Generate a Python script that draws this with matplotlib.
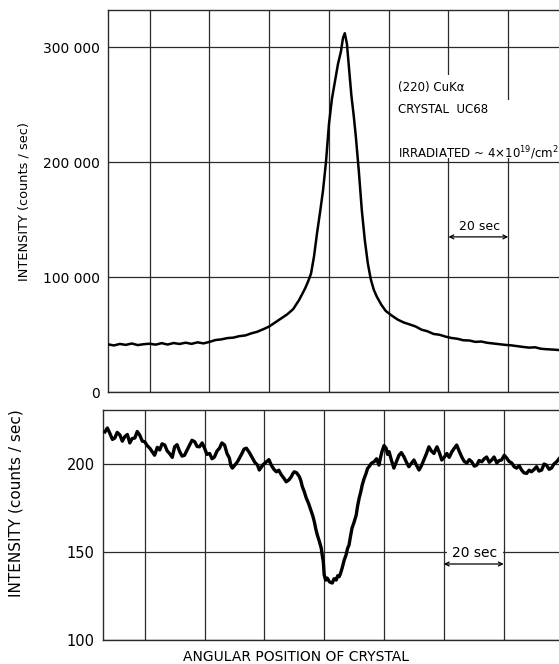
import matplotlib
matplotlib.use("Agg")
import matplotlib.pyplot as plt
from matplotlib.patches import Rectangle
from matplotlib.ticker import FuncFormatter

# top trace: (220) CuKa reflection, counts/sec vs angular position (sec of arc)
top_sec = [6, 8, 10, 12, 14, 16, 18, 20, 22, 24, 26, 28, 30, 32, 34, 36, 38, 40,
           42, 44, 46, 48, 50, 52, 54, 56, 58, 60, 62, 64, 66, 68, 70, 72, 73, 74,
           75, 76, 77, 78, 79, 80, 81, 82, 83, 84, 84.7, 85.3, 86, 86.7, 87.5,
           88.3, 89, 90, 91, 92, 93, 94, 95, 96, 97.5, 99, 101, 103, 105, 107,
           109, 111, 113, 115, 117, 119, 121, 123, 125, 127, 129, 131, 133, 135,
           137, 139, 141, 143, 145, 147, 149, 151, 153, 155, 157]
top_counts = [41500, 40500, 41800, 41000, 42200, 40800, 41600, 42000, 41200, 42500,
              41300, 42600, 41800, 42900, 41900, 43200, 42300, 43600, 45200, 45800,
              46900, 47300, 48600, 49200, 51000, 52400, 54600, 57000, 60500, 64000,
              67500, 72000, 80000, 90000, 96000, 103000, 118000, 138000, 156000,
              175000, 200000, 233000, 255000, 270000, 285000, 296000, 308000, 312000,
              303000, 282000, 258000, 240000, 222000, 192000, 158000, 132000, 112000,
              98000, 89000, 83000, 76000, 70500, 66500, 63000, 60500, 58800, 57000,
              54200, 52800, 50500, 49800, 48200, 47000, 46300, 45000, 44800, 43600,
              43900, 42800, 42200, 41600, 41000, 40600, 39900, 39200, 38600, 38900,
              37600, 37200, 36900, 36500]

# bottom trace (same angular scale)
bot_sec = [6.7, 7.5, 8.3, 9.2, 10, 10.8, 11.7, 12.5, 13.3, 14.2, 15, 15.8, 16.7,
           17.5, 18.3, 19.2, 20, 20.8, 21.7, 22.5, 23.3, 24.2, 25, 25.8, 26.7,
           27.5, 28.3, 29.2, 30, 30.8, 31.7, 32.5, 33.3, 34.2, 35, 35.8, 36.7,
           37.5, 38.3, 39.2, 40, 40.8, 41.7, 42.5, 43.3, 44.2, 45, 45.8, 46.7,
           47.5, 48.3, 48.8, 49.3, 50.2, 51, 52.5, 53.2, 54, 55, 56, 56.8, 57.7,
           58.3, 59.5, 60.7, 61.5, 62.3, 63.2, 64, 64.8, 65.7, 66.5, 67.3, 68.2,
           69, 69.5, 70, 70.8, 71.7, 72.2, 72.7,
           73.3, 74, 74.8, 75.7, 76.2, 76.7, 77.2, 77.7, 78.3, 79, 79.4, 79.7, 80,
           80.5, 81, 81.8, 82.7, 83.3, 84, 84.5, 85, 85.5, 86, 86.7, 87.3, 87.8,
           88.3, 88.8, 89.3, 90, 90.7, 91.2, 91.7, 92.2, 92.7, 93.3, 94, 94.5, 95,
           95.8, 96.7, 97.5, 98.3, 98.8, 99.3, 100, 100.7, 101.2, 101.7, 102.5,
           103.3, 104.2, 105, 105.8, 106.7, 107.5, 108.3, 109.2, 110, 110.8, 111.7,
           112.5, 113.3, 114.2, 115, 115.8, 116.7, 117.2, 117.7, 118.5, 119.3,
           120.2, 121, 121.8, 122.7, 123.5, 124.3, 125.2, 126, 126.8, 127.7, 128.5,
           129.3, 130.2, 131, 131.8, 132.7, 133.5, 134.3, 135.2, 136, 136.8, 137.7,
           138.5, 139.3, 140.2, 141, 141.8, 142.7, 143.5, 144.3, 145.2, 146, 146.8,
           147.7, 148.5, 149.3, 150.2, 151, 151.8, 152.7, 153.5, 154.3, 155.2, 156,
           156.8, 157.7, 158.5]
bot_counts = [218.3, 220.5, 217.6, 214.0, 214.8, 218.0, 216.5, 213.0, 215.5, 216.8,
              212, 214.5, 214.8, 218.5, 216.5, 213.0, 212.7, 210.5, 209, 207.0, 205,
              209.5, 208, 211.5, 210.8, 207.5, 206, 203.8, 209.8, 211.0, 207, 204.5,
              205, 208.0, 210.8, 213.5, 212.7, 210.0, 209.8, 212.0, 209, 205.5, 206,
              203.0, 204, 207.5, 209, 212.0, 210.8, 206.0, 203.4, 199.0, 197.7,
              199.5, 201.3, 206.0, 208.5, 209, 206.5, 203.4, 201.0, 199.4, 196.6,
              199.5, 201.3, 202.5, 199.4, 197.0, 195.6, 196.5, 193.8, 192.0, 189.9,
              191.0, 192.8, 194.5, 195.6, 195.0, 192.8, 190.5, 187.1,
              184.5, 180.7, 177.5, 172.9, 170.5, 167.2, 163.0, 159.7, 156.5, 152.3,
              147.5, 144.5, 137, 134.0, 135.2, 133.0, 132.4, 134.8, 134.1, 136.5,
              136, 138.0, 140.9, 145.5, 148.3, 152.0, 154, 159.0, 163.6, 167.0, 171,
              176.5, 180.7, 184.0, 188, 191.5, 194.7, 197.5, 198.5, 200.5, 201.3,
              203.0, 199.4, 203.5, 207, 210.5, 209, 205.5, 207, 202.0, 197.7, 201.5,
              205, 206.5, 204, 201.0, 198.5, 200.5, 202.3, 199.5, 196.6, 199.0,
              202.3, 206.0, 209.8, 207.5, 206, 208.0, 209.8, 206.5, 202.3, 204.0,
              206, 203.8, 207, 209.0, 210.8, 207.0, 204, 201.5, 200.6, 202.5, 201.3,
              198.8, 199.4, 202.0, 201.3, 203.0, 204, 201.0, 202.3, 204.0, 200.6,
              202.0, 202.3, 205.0, 203.4, 201.5, 200.6, 198.5, 197.7, 199.0, 196.6,
              195.0, 194.7, 196.5, 195.6, 197.0, 198.5, 196.0, 196.6, 200.0, 199.4,
              197.0, 197.7, 200.0, 201.3, 203.0]

top_yticks = [0, 100000, 200000, 300000]
bot_yticks = [100, 150, 200]
grid_x = [20, 40, 60, 80, 100, 120, 140]

fig = plt.figure(figsize=(5.59, 6.64), dpi=100)
ax1 = fig.add_axes([0.193, 0.4096, 0.807, 0.575])
ax2 = fig.add_axes([0.184, 0.0361, 0.816, 0.3464])

GRID = '#2a2a2a'

for ax in (ax1, ax2):
    ax.set_xticks(grid_x)
    ax.tick_params(axis='both', length=0, labelsize=10, pad=6)
    ax.tick_params(axis='x', labelbottom=False)
    ax.grid(True, color=GRID, lw=0.9)
    for s in ('left', 'bottom', 'top'):
        ax.spines[s].set_color(GRID)
        ax.spines[s].set_linewidth(1.0)
    ax.spines['right'].set_visible(False)

# top panel
ax1.plot(top_sec, top_counts, color='black', lw=1.8, zorder=4)
ax1.set_xlim(6, 157)
ax1.set_ylim(0, 332000)
ax1.set_yticks(top_yticks)
ax1.yaxis.set_major_formatter(FuncFormatter(
    lambda v, p: '0' if v == 0 else f"{int(v) // 1000} 000"))
ax1.set_ylabel("INTENSITY (counts / sec)", fontsize=9.3)
ax1.yaxis.set_label_coords(-0.171, 0.5)

# white areas behind the labels
ax1.add_patch(Rectangle((101.4, 254000), 25.8, 21800, facecolor='white',
                        edgecolor='none', zorder=2))
ax1.add_patch(Rectangle((101.4, 203600), 60, 50400, facecolor='white',
                        edgecolor='none', zorder=2))
ax1.text(103, 264500, "(220) CuK\u03b1", fontsize=8.5, va='center', zorder=3)
ax1.text(103, 245500, "CRYSTAL  UC68", fontsize=8.5, va='center', zorder=3)
ax1.text(103, 208000, "IRRADIATED ~ 4\u00d710$^{19}$/cm$^2$", fontsize=8.5,
         va='center', zorder=3)

ax1.text(130.5, 143600, "20 sec", fontsize=9, ha='center', va='center', zorder=3)
ax1.annotate("", xy=(120, 134900), xytext=(140, 134900),
             arrowprops=dict(arrowstyle='<->', color='black', lw=0.9,
                             shrinkA=0, shrinkB=0, mutation_scale=7))

# bottom panel
ax2.plot(bot_sec, bot_counts, color='black', lw=2.4, zorder=4)
ax2.set_xlim(6, 158.5)
ax2.set_ylim(100, 230.7)
ax2.set_yticks(bot_yticks)
ax2.tick_params(axis='y', labelsize=10.5)
ax2.set_ylabel("INTENSITY (counts / sec)", fontsize=11)
ax2.yaxis.set_label_coords(-0.173, 0.596)

ax2.text(130.4, 149.4, "20 sec", fontsize=10, ha='center', va='center', zorder=3,
         bbox=dict(facecolor='white', edgecolor='none', pad=4))
ax2.annotate("", xy=(120, 143.2), xytext=(140, 143.2),
             arrowprops=dict(arrowstyle='<->', color='black', lw=0.9,
                             shrinkA=0, shrinkB=0, mutation_scale=7))

fig.text(0.53, 0.004, "ANGULAR POSITION OF CRYSTAL", fontsize=10,
         ha='center', va='baseline')

fig.savefig("out.png", dpi=100)
